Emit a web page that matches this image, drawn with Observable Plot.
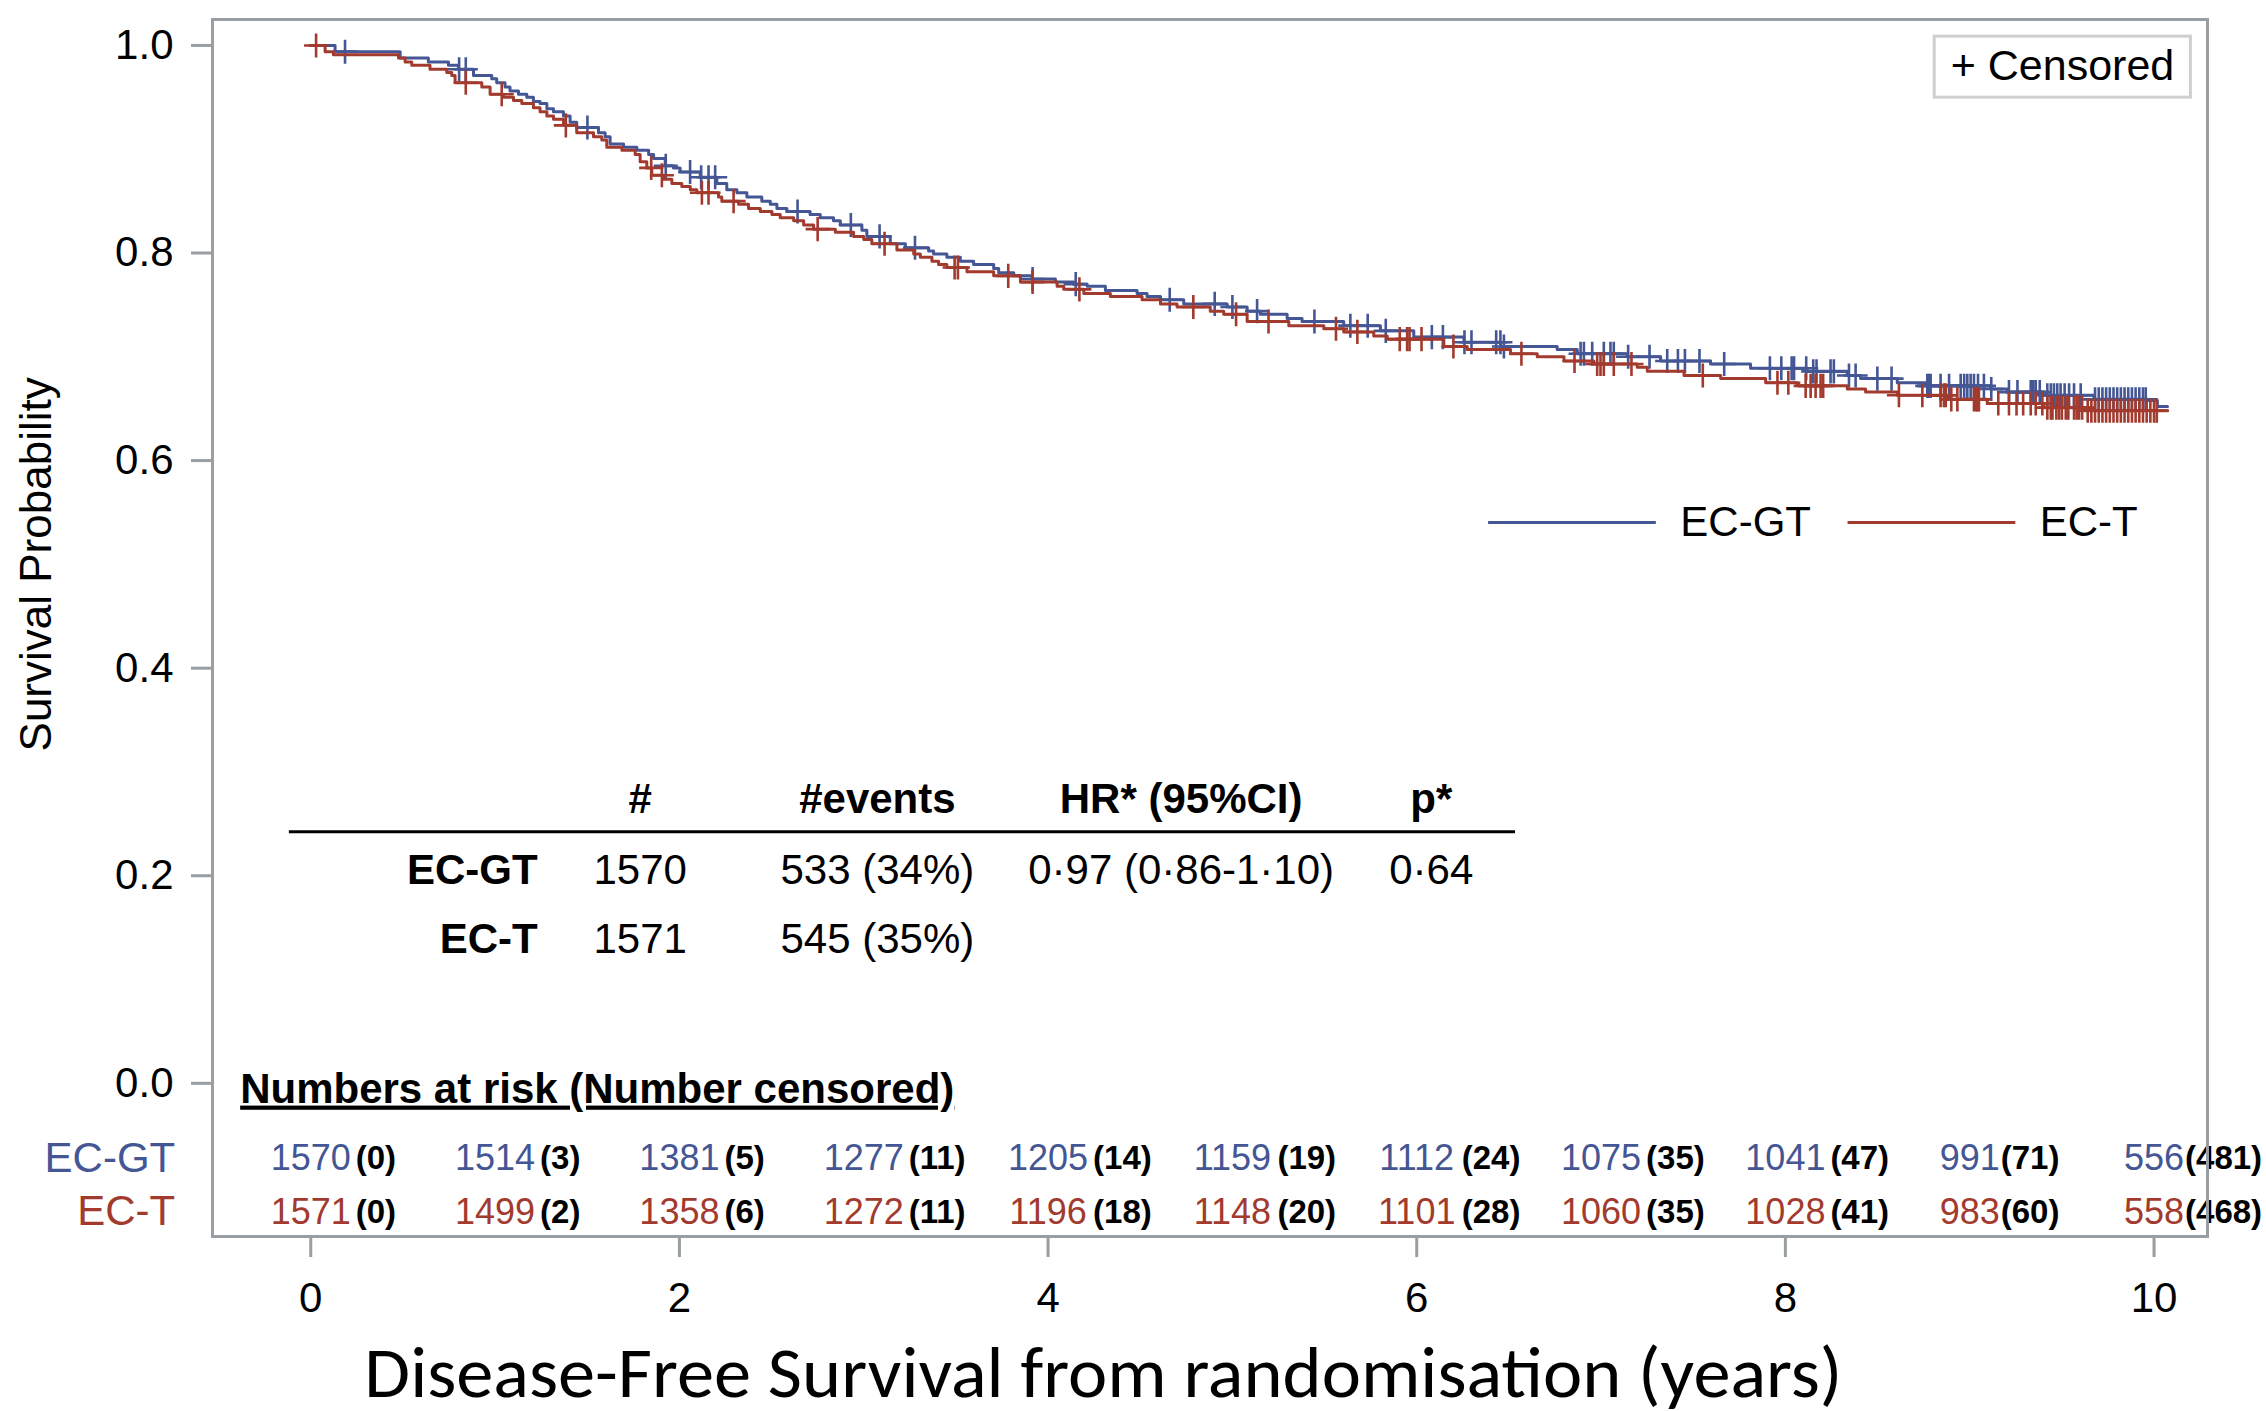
<!DOCTYPE html>
<html><head><meta charset="utf-8">
<script src="https://cdn.jsdelivr.net/npm/d3@7"></script>
<script src="https://cdn.jsdelivr.net/npm/@observablehq/plot@0.6"></script>
<style>html,body{margin:0;padding:0;background:#fff;}</style>
</head><body><div id="chart"></div>
<script>
const BLUE = "#445694", RED = "#A23A2E", AXIS = "#989ea1";

// ---- Kaplan-Meier step curves ----
const gtTime = [0,0.132,0.485,0.638,0.747,0.801,0.883,0.982,1.009,1.054,1.081,1.127,1.172,1.208,1.244,1.281,1.317,1.371,1.407,1.443,1.561,1.597,1.624,1.697,1.769,1.833,1.860,1.923,1.968,2.004,2.113,2.203,2.257,2.312,2.366,2.447,2.493,2.529,2.583,2.709,2.764,2.836,2.873,2.990,3.017,3.144,3.226,3.352,3.379,3.451,3.524,3.596,3.705,3.732,3.814,3.913,4.040,4.139,4.212,4.311,4.483,4.537,4.610,4.736,4.972,5.080,5.152,5.297,5.378,5.604,5.803,5.984,6.256,6.455,6.762,6.871,7.142,7.323,7.594,7.811,8.119,8.336,8.408,8.607,8.761,9.113,9.204,9.403,9.674,9.963,10.018,10.073];
const gtSurv = [1.000,0.994,0.988,0.984,0.981,0.977,0.971,0.968,0.964,0.960,0.956,0.953,0.950,0.946,0.944,0.939,0.936,0.932,0.926,0.921,0.916,0.912,0.905,0.902,0.899,0.895,0.891,0.884,0.882,0.878,0.873,0.867,0.861,0.858,0.854,0.850,0.847,0.843,0.840,0.837,0.834,0.831,0.827,0.822,0.816,0.809,0.805,0.802,0.799,0.796,0.792,0.789,0.785,0.781,0.778,0.775,0.772,0.770,0.768,0.764,0.761,0.758,0.755,0.751,0.748,0.744,0.741,0.737,0.734,0.730,0.725,0.719,0.714,0.710,0.707,0.703,0.700,0.696,0.693,0.689,0.686,0.682,0.679,0.675,0.672,0.669,0.666,0.663,0.659,0.658,0.652,0.652];
const tTime = [0,0.078,0.123,0.476,0.512,0.548,0.647,0.738,0.765,0.783,0.928,0.973,1.045,1.100,1.145,1.208,1.244,1.281,1.317,1.371,1.443,1.534,1.579,1.606,1.688,1.760,1.787,1.823,1.850,1.914,1.959,2.013,2.059,2.095,2.212,2.230,2.321,2.375,2.439,2.502,2.547,2.620,2.674,2.728,2.846,2.945,3.000,3.044,3.180,3.271,3.307,3.370,3.406,3.451,3.560,3.705,3.850,4.049,4.085,4.194,4.338,4.510,4.610,4.700,4.880,4.953,5.080,5.306,5.496,5.604,5.767,5.840,6.147,6.274,6.509,6.654,6.799,6.961,7.196,7.251,7.450,7.649,7.893,8.064,8.336,8.435,8.607,8.877,9.095,9.403,9.620,10.073];
const tSurv = [1.000,0.994,0.991,0.988,0.984,0.981,0.977,0.974,0.971,0.964,0.960,0.953,0.950,0.947,0.944,0.940,0.936,0.932,0.929,0.923,0.916,0.912,0.909,0.902,0.899,0.895,0.888,0.882,0.875,0.871,0.867,0.864,0.861,0.858,0.854,0.850,0.847,0.843,0.840,0.837,0.834,0.831,0.827,0.823,0.820,0.816,0.813,0.809,0.803,0.799,0.796,0.792,0.789,0.786,0.782,0.778,0.772,0.768,0.765,0.761,0.758,0.755,0.751,0.748,0.744,0.741,0.734,0.730,0.727,0.724,0.720,0.717,0.710,0.707,0.703,0.700,0.696,0.693,0.690,0.686,0.682,0.679,0.675,0.672,0.669,0.666,0.663,0.659,0.655,0.651,0.648,0.648];

// ---- censoring times ----
const gtCensTimes = [0.186,0.805,0.841,1.501,1.926,2.058,2.118,2.158,2.194,2.641,2.930,3.086,3.278,3.916,4.150,4.660,4.904,5.000,5.134,5.445,5.640,5.734,5.832,6.082,6.142,6.259,6.297,6.431,6.454,6.473,6.889,6.907,6.952,7.015,7.051,7.069,7.147,7.263,7.359,7.417,7.455,7.534,7.668,7.916,7.978,8.034,8.047,8.113,8.151,8.169,8.245,8.263,8.345,8.381,8.499,8.576,8.770,8.780,8.788,8.842,8.888,8.951,8.970,8.987,9.005,9.023,9.045,9.077,9.117,9.213,9.259,9.331,9.345,9.358,9.380,9.421,9.440,9.457,9.475,9.493,9.515,9.539,9.566,9.602,9.680,9.700,9.720,9.740,9.760,9.780,9.800,9.820,9.840,9.860,9.880,9.900,9.920,9.940,9.955];
const tCensTimes = [0.029,0.841,1.036,1.384,1.847,1.905,2.122,2.158,2.294,2.750,3.113,3.493,3.511,3.784,3.916,4.170,4.788,5.020,5.196,5.562,5.678,5.908,5.948,5.961,6.026,6.199,6.568,6.856,6.979,6.997,7.015,7.069,7.165,7.552,7.957,8.016,8.110,8.137,8.164,8.191,8.205,8.616,8.743,8.842,8.860,8.870,8.900,8.933,9.023,9.035,9.041,9.050,9.155,9.213,9.254,9.290,9.331,9.358,9.394,9.421,9.440,9.449,9.470,9.485,9.500,9.521,9.535,9.566,9.580,9.593,9.610,9.640,9.660,9.680,9.700,9.720,9.740,9.760,9.780,9.800,9.820,9.840,9.860,9.880,9.900,9.920,9.940,9.960,9.980,10.000,10.015];

// ---- numbers at risk ----
const riskYears = [0,1,2,3,4,5,6,7,8,9,10];
const gtRisk = [1570,1514,1381,1277,1205,1159,1112,1075,1041,991,556];
const gtCens = [0,3,5,11,14,19,24,35,47,71,481];
const tRisk  = [1571,1499,1358,1272,1196,1148,1101,1060,1028,983,558];
const tCens  = [0,2,6,11,18,20,28,35,41,60,468];

// ---- inset table ----
const tableHeader = ["#", "#events", "HR* (95%CI)", "p*"];
const tableArms = ["EC-GT", "EC-T"];
const tableN = ["1570", "1571"];
const tableEvents = ["533 (34%)", "545 (35%)"];
const tableHR = ["0·97 (0·86-1·10)", ""];
const tableP = ["0·64", ""];

// ---- axis ticks ----
const xTicks = [0,2,4,6,8,10];
const yTicks = [0,0.2,0.4,0.6,0.8,1.0];

// ---- layout (annotation anchor positions, in data units) ----
const L = {
  tableColX: [1.787, 3.074, 4.722, 6.079], tableLabelX: 1.231,
  tableHeadY: 0.2731, tableRowY: [0.2047, 0.1382],
  ruleY: 0.2424, ruleX1: -0.116, ruleX2: 6.536,
  riskTitleX: -0.383, riskTitleY: -0.0056, riskRowY: [-0.0725, -0.1240], riskLabelX: -0.735,
  legY: 0.5404, legLines: [[6.39, 7.30], [8.34, 9.25]], legTextX: [7.43, 9.38],
  censBox: {x1: 8.81, x2: 10.20, y1: 0.9497, y2: 1.0085}, censTextX: 8.897, censTextY: 0.9796
};

const curve = (time, surv) => time.map((t, i) => ({t, s: surv[i]}));
const survAt = (time, surv, t) => surv[Math.max(0, d3.bisectRight(time, t) - 1)];
const cens = (times, time, surv) => times.map(t => ({t, s: survAt(time, surv, t)}));

const gtCurve = curve(gtTime, gtSurv), tCurve = curve(tTime, tSurv);
const gtCensPts = cens(gtCensTimes, gtTime, gtSurv), tCensPts = cens(tCensTimes, tTime, tSurv);

const riskRows = [];
riskYears.forEach((yr, i) => {
  riskRows.push({x: yr, y: L.riskRowY[0], n: gtRisk[i], c: `(${gtCens[i]})`, col: BLUE});
  riskRows.push({x: yr, y: L.riskRowY[1], n: tRisk[i], c: `(${tCens[i]})`, col: RED});
});

const tableHead = tableHeader.map((h, i) => ({x: L.tableColX[i], y: L.tableHeadY, text: h}));
const tableLabels = tableArms.map((a, i) => ({x: L.tableLabelX, y: L.tableRowY[i], text: a}));
const tableCells = [];
[tableN, tableEvents, tableHR, tableP].forEach((col, j) => col.forEach((v, i) => {
  if (v) tableCells.push({x: L.tableColX[j], y: L.tableRowY[i], text: v});
}));

const legend = [
  {name: "EC-GT", color: BLUE, x1: L.legLines[0][0], x2: L.legLines[0][1], tx: L.legTextX[0], y: L.legY},
  {name: "EC-T", color: RED, x1: L.legLines[1][0], x2: L.legLines[1][1], tx: L.legTextX[1], y: L.legY}
];

const FONT = "'Liberation Sans', Arial, Helvetica, sans-serif";

const chart = Plot.plot({
  width: 2266, height: 1411,
  marginLeft: 212, marginRight: 59, marginTop: 19, marginBottom: 175,
  x: {domain: [-0.533, 10.29]},
  y: {domain: [-0.1476, 1.025]},
  style: {fontFamily: FONT, fontSize: "42px", background: "white", color: "black", overflow: "visible"},
  marks: [
    Plot.axisY({ticks: yTicks, tickSize: 21, tickPadding: 18, fontSize: 42, stroke: AXIS, strokeWidth: 3, tickFormat: d3.format(".1f"), label: null}),
    Plot.axisX({ticks: xTicks, tickSize: 21, tickPadding: 25, fontSize: 42, stroke: AXIS, strokeWidth: 3, tickFormat: d => String(d), label: null}),
    Plot.text([{text: "Survival Probability", y: 0.5}], {frameAnchor: "left", y: "y", text: "text", rotate: -90, textAnchor: "middle", dx: -176, fontSize: 44, fill: "black"}),
    // curves
    Plot.line(gtCurve, {x: "t", y: "s", curve: "step-after", stroke: BLUE, strokeWidth: 3}),
    Plot.dot(gtCensPts, {x: "t", y: "s", symbol: "plus", r: 7.8, stroke: BLUE, strokeWidth: 2.6}),
    Plot.line(tCurve, {x: "t", y: "s", curve: "step-after", stroke: RED, strokeWidth: 3}),
    Plot.dot(tCensPts, {x: "t", y: "s", symbol: "plus", r: 7.8, stroke: RED, strokeWidth: 2.6}),
    // censored legend box
    Plot.rect([L.censBox], {x1: "x1", x2: "x2", y1: "y1", y2: "y2", fill: "white", stroke: "#cfcfcf", strokeWidth: 3}),
    Plot.text([{x: L.censTextX, y: L.censTextY, text: "+ Censored"}], {x: "x", y: "y", text: "text", textAnchor: "start", fontSize: 43, fill: "black"}),
    // series legend
    Plot.ruleY(legend, {y: "y", x1: "x1", x2: "x2", stroke: "color", strokeWidth: 3}),
    Plot.text(legend, {x: "tx", y: "y", text: "name", textAnchor: "start", fontSize: 42, fill: "black"}),
    // inset table
    Plot.text(tableHead, {x: "x", y: "y", text: "text", fontSize: 42, fontWeight: "bold", fill: "black"}),
    Plot.ruleY([L], {y: "ruleY", x1: "ruleX1", x2: "ruleX2", stroke: "black", strokeWidth: 3}),
    Plot.text(tableLabels, {x: "x", y: "y", text: "text", textAnchor: "end", fontSize: 42, fontWeight: "bold", fill: "black"}),
    Plot.text(tableCells, {x: "x", y: "y", text: "text", fontSize: 42, fill: "black"}),
    // numbers at risk
    Plot.text([{x: L.riskTitleX, y: L.riskTitleY, text: "Numbers at risk (Number censored)"}], {x: "x", y: "y", text: "text", textAnchor: "start", fontSize: 42, fontWeight: "bold", fill: "black"}),
    Plot.text([{x: L.riskLabelX, y: L.riskRowY[0], t: "EC-GT", c: BLUE}, {x: L.riskLabelX, y: L.riskRowY[1], t: "EC-T", c: RED}], {x: "x", y: "y", text: "t", fill: "c", textAnchor: "end", fontSize: 42}),
    Plot.text(riskRows, {x: "x", y: "y", text: d => String(d.n), fill: "col", fontSize: 36}),
    Plot.text(riskRows, {filter: d => d.n >= 1000, x: "x", y: "y", text: "c", textAnchor: "start", dx: 45, fontSize: 33, fontWeight: "bold", fill: "black"}),
    Plot.text(riskRows, {filter: d => d.n < 1000, x: "x", y: "y", text: "c", textAnchor: "start", dx: 31, fontSize: 33, fontWeight: "bold", fill: "black"}),
    // x axis title
    Plot.text([{x: 4.30, text: "Disease-Free Survival from randomisation (years)"}], {x: "x", text: "text", frameAnchor: "bottom", dy: 160, fontSize: 72, fontFamily: "Carlito, Calibri, Lato, 'Open Sans', sans-serif", fill: "black"}),
    Plot.frame({stroke: AXIS, strokeWidth: 3})
  ]
});

document.getElementById("chart").appendChild(chart);
d3.select(chart).selectAll("text").each(function() {
  const s = this.textContent;
  if (s === "Numbers at risk (Number censored)") d3.select(this).style("text-decoration", "underline");
  if (s === "Disease-Free Survival from randomisation (years)") d3.select(this).attr("textLength", 1478).attr("lengthAdjust", "spacingAndGlyphs");
});
</script>
</body></html>
